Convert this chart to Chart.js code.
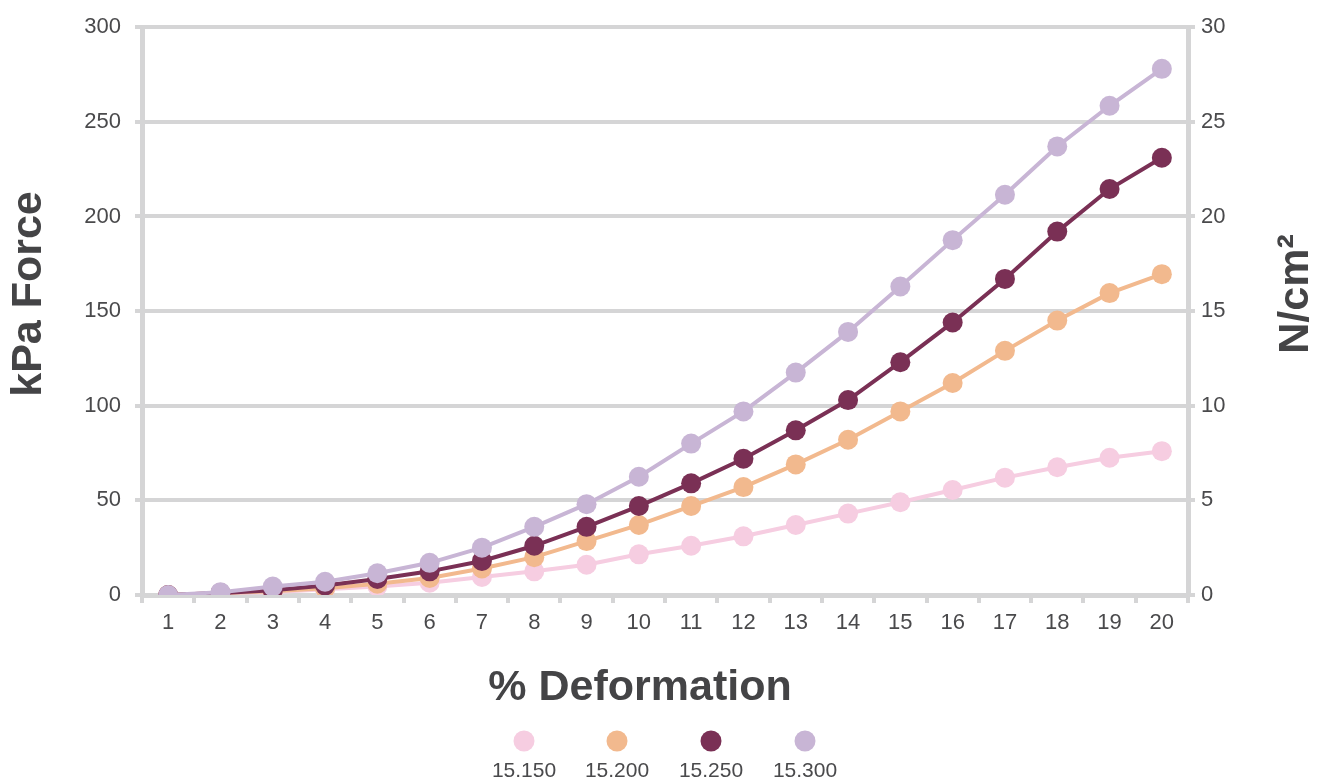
<!DOCTYPE html>
<html>
<head>
<meta charset="utf-8">
<script src="https://cdn.jsdelivr.net/npm/chart.js@4/dist/chart.umd.min.js"></script>
<style>
  html, body { margin: 0; padding: 0; background: #ffffff; }
  #wrap { width: 1324px; height: 783px; position: relative; }
</style>
</head>
<body>
<div id="wrap"><canvas id="c"></canvas></div>
<script>
const categories = ['1','2','3','4','5','6','7','8','9','10','11','12','13','14','15','16','17','18','19','20'];
const seriesLabels = ['15.150', '15.200', '15.250', '15.300'];
const s15150 = [0, 1, 1.5, 3, 4.5, 6.5, 9.5, 12.5, 16, 21.5, 26, 31, 37, 43, 49, 55.5, 62, 67.5, 72.5, 76];
const s15200 = [0, 1, 2, 3.5, 6, 9, 14, 20, 28.5, 37, 47, 57, 69, 82, 97, 112, 129, 145, 159.5, 169.5];
const s15250 = [0, 1, 2.5, 5, 8.5, 12.5, 18, 26, 36, 47, 59, 72, 87, 103, 123, 144, 167, 192, 214.5, 231];
const s15300 = [0, 1.5, 4.5, 7, 11.5, 17, 25, 36, 48, 62.5, 80, 97, 117.5, 139, 163, 187.5, 211.5, 237, 258.5, 278];
const leftTicks = [0, 50, 100, 150, 200, 250, 300];
const rightTicks = [0, 5, 10, 15, 20, 25, 30];
const xTitle = '% Deformation';
const yTitle = 'kPa Force';
const y1Title = 'N/cm²';

const colors = ['#f6cde1', '#f2b98e', '#7a3055', '#c8b5d5'];
const GRID = '#d5d5d6';
const TEXT = '#4a4a4c';
const FONT = "'Liberation Sans', Arial, sans-serif";

const seriesData = [s15150, s15200, s15250, s15300];
const datasets = seriesData.map((d, i) => ({
  label: seriesLabels[i],
  data: d,
  borderColor: colors[i],
  backgroundColor: colors[i],
  pointBackgroundColor: colors[i],
  pointBorderWidth: 0,
  pointRadius: 10,
  pointHoverRadius: 10,
  borderWidth: 4,
  tension: 0,
  yAxisID: 'y',
  order: 3 - i
}));

const decorPlugin = {
  id: 'decor',
  afterDraw(chart) {
    const ctx = chart.ctx;
    ctx.save();
    ctx.fillStyle = '#444446';
    ctx.font = 'bold 43px ' + FONT;
    ctx.textAlign = 'center';
    ctx.textBaseline = 'middle';
    ctx.fillText(xTitle, 640, 688);
    ctx.save();
    ctx.translate(29, 294);
    ctx.rotate(-Math.PI / 2);
    ctx.fillText(yTitle, 0, 0);
    ctx.restore();
    ctx.save();
    ctx.translate(1296, 294);
    ctx.rotate(-Math.PI / 2);
    ctx.fillText(y1Title, 0, 0);
    ctx.restore();
    const xs = [524, 617, 711, 805];
    chart.data.datasets.forEach((ds, i) => {
      ctx.beginPath();
      ctx.fillStyle = ds.backgroundColor;
      ctx.arc(xs[i], 741, 10.5, 0, Math.PI * 2);
      ctx.fill();
      ctx.fillStyle = TEXT;
      ctx.font = '21px ' + FONT;
      ctx.textAlign = 'center';
      ctx.textBaseline = 'middle';
      ctx.fillText(ds.label, xs[i], 771);
    });
    ctx.restore();
  }
};

new Chart(document.getElementById('c'), {
  type: 'line',
  data: { labels: categories, datasets: datasets },
  options: {
    responsive: true,
    maintainAspectRatio: false,
    animation: false,
    layout: { padding: { top: 25, left: 0, right: 0, bottom: 0 } },
    plugins: { legend: { display: false }, tooltip: { enabled: false } },
    scales: {
      x: {
        type: 'category',
        offset: true,
        grid: { display: true, offset: true, drawOnChartArea: false, drawTicks: true, tickLength: 8, color: GRID, lineWidth: 4 },
        border: { display: true, color: GRID, width: 5 },
        ticks: { color: TEXT, font: { family: FONT, size: 22 }, padding: 7, maxRotation: 0, autoSkip: false },
        afterFit(s) { s.height = 188; }
      },
      y: {
        position: 'left',
        min: leftTicks[0],
        max: leftTicks[leftTicks.length - 1],
        afterBuildTicks(s) { s.ticks = leftTicks.map(v => ({ value: v })); },
        grid: { color: GRID, lineWidth: 4, drawTicks: true, tickLength: 7 },
        border: { display: true, color: GRID, width: 5 },
        ticks: { color: TEXT, font: { family: FONT, size: 22 }, padding: 14 },
        afterFit(s) { s.width = 142; }
      },
      y1: {
        position: 'right',
        min: rightTicks[0],
        max: rightTicks[rightTicks.length - 1],
        afterBuildTicks(s) { s.ticks = rightTicks.map(v => ({ value: v })); },
        grid: { drawOnChartArea: false, color: GRID, lineWidth: 4, drawTicks: true, tickLength: 7 },
        border: { display: true, color: GRID, width: 5 },
        ticks: { color: TEXT, font: { family: FONT, size: 22 }, padding: 6 },
        afterFit(s) { s.width = 136; }
      }
    }
  },
  plugins: [decorPlugin]
});
</script>
</body>
</html>
